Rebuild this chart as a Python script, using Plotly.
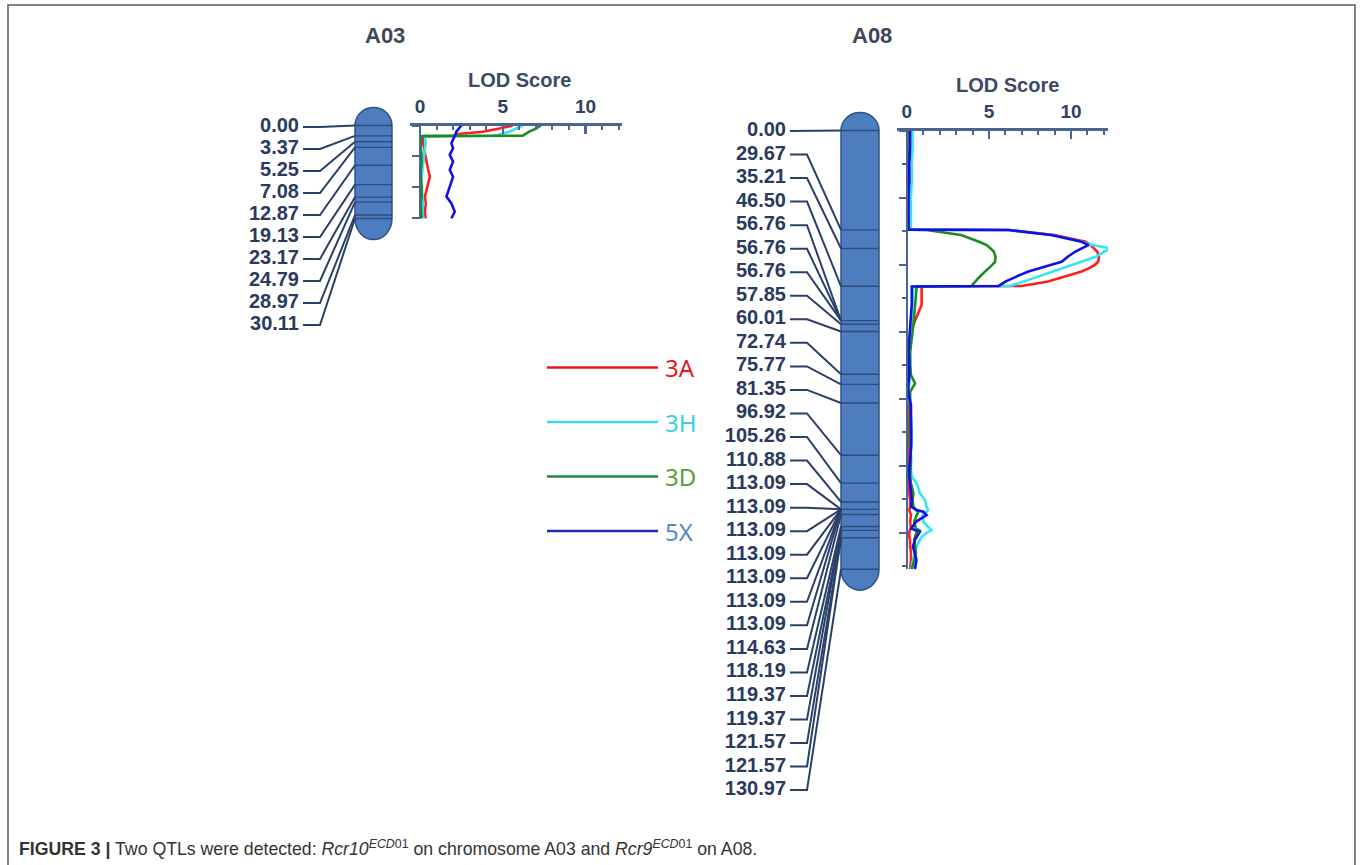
import plotly.graph_objects as go

W, H = 1360, 865

# ---------------- data ----------------
traits = ["3A", "3H", "3D", "5X"]
curve_colors = {"3A": "#ff1f1f", "3H": "#35e6f2", "3D": "#1c8c1c", "5X": "#1010e6"}
legend_line_colors = ["#e8141c", "#40d8ea", "#1f8a40", "#2828a8"]
legend_text_colors = ["#e8141c", "#35cfe6", "#5a9e34", "#5a88c2"]

a03_labels = ["0.00", "3.37", "5.25", "7.08", "12.87", "19.13", "23.17", "24.79", "28.97", "30.11"]
a08_labels = ["0.00", "29.67", "35.21", "46.50", "56.76", "56.76", "56.76", "57.85", "60.01",
              "72.74", "75.77", "81.35", "96.92", "105.26", "110.88", "113.09", "113.09",
              "113.09", "113.09", "113.09", "113.09", "113.09", "114.63", "118.19", "119.37",
              "119.37", "121.57", "121.57", "130.97"]
a03_pos = [float(v) for v in a03_labels]
a08_pos = [float(v) for v in a08_labels]

# LOD profiles, A03
lod03_cm = [0, 1, 2, 2.75, 3.3, 3.45, 5.8, 7.4, 9.5, 11.7, 14.4, 16.6, 19.8, 23, 25.2, 27.9, 30.11]
lod03_3A = [5.6, 4.8, 3.8, 2.3, 2.0, 0.15, 0.2, 0.25, 0.3, 0.4, 0.5, 0.6, 0.45, 0.3, 0.35, 0.3, 0.35]
lod03_3H = [6.2, 5.8, 5.4, 4.9, 4.5, 0.3, 0.35, 0.3, 0.25, 0.2, 0.15, 0.1, 0.1, 0.15, 0.2, 0.15, 0.2]
lod03_3D = [7.3, 7.0, 6.6, 6.4, 6.2, 0.1, 0.05, 0.05, 0.1, 0.1, 0.05, 0.05, 0.1, 0.1, 0.05, 0.1, 0.1]
lod03_5X = [2.5, 2.35, 2.2, 2.15, 2.1, 2.1, 1.9, 2.0, 1.8, 2.0, 1.8, 2.0, 1.8, 1.6, 1.9, 2.1, 1.9]

# LOD profiles, A08
lod08_cm = [0, 5, 10, 15, 20, 25, 29.6,
            29.7, 31.2, 33.2, 34.2, 35.2, 36.2, 37.7, 39.2, 40.1, 41.1, 42.1, 43.1, 44.1, 45.1, 46.4,
            46.55, 50, 52, 55, 58, 62, 66, 70, 73, 75.5, 78, 82, 86, 90, 94, 98, 101, 103.4, 105.3,
            108.3, 110.3, 112.3, 113.3, 113.8, 114.8, 116.8, 118.8, 119.3, 119.8, 121.3, 122.2,
            124.2, 126, 128.2, 130.97]
lod08_3A = [0.15, 0.1, 0.1, 0.15, 0.1, 0.1, 0.15,
            6.2, 9.0, 10.9, 11.2, 11.4, 11.6, 11.7, 11.65, 11.45, 11.1, 10.65, 10.0, 9.4, 8.6, 7.0,
            0.9, 0.9, 0.9, 0.65, 0.4, 0.2, 0.15, 0.1, 0.1, 0.1, 0.05, 0.05, 0.1, 0.1, 0.05, 0.1,
            0.1, 0.1, 0.15, 0.15, 0.2, 0.2, 0.15, 0.2, 0.25, 0.2, 0.25, 0.2, 0.15, 0.15, 0.2, 0.2,
            0.25, 0.25, 0.2]
lod08_3H = [0.35, 0.35, 0.3, 0.3, 0.25, 0.25, 0.25,
            6.2, 8.8, 10.65, 11.3, 12.45, 12.0, 11.5, 10.65, 10.1, 9.5, 8.9, 8.3, 7.7, 7.1, 6.3,
            0.4, 0.35, 0.35, 0.3, 0.3, 0.25, 0.2, 0.2, 0.2, 0.15, 0.1, 0.2, 0.25, 0.3, 0.25, 0.25,
            0.25, 0.3, 0.6, 0.8, 1.1, 1.2, 1.3, 1.2, 0.95, 1.0, 1.4, 1.5, 1.3, 0.9, 0.8, 0.6, 0.5,
            0.37, 0.27]
lod08_3D = [0.05, 0.05, 0.05, 0.1, 0.05, 0.05, 0.05,
            1.2, 3.3, 4.4, 4.86, 5.1, 5.3, 5.4, 5.37, 5.2, 4.96, 4.75, 4.55, 4.35, 4.15, 3.94,
            0.6, 0.55, 0.5, 0.45, 0.4, 0.3, 0.2, 0.2, 0.25, 0.5, 0.2, 0.2, 0.2, 0.2, 0.2, 0.25,
            0.2, 0.2, 0.25, 0.4, 0.35, 0.4, 0.55, 0.7, 0.6, 0.45, 0.55, 0.75, 0.6, 0.5, 0.45, 0.5,
            0.55, 0.45, 0.3]
lod08_5X = [0.2, 0.2, 0.15, 0.15, 0.1, 0.1, 0.1,
            6.2, 8.8, 10.65, 11.06, 10.65, 10.24, 9.8, 9.43, 8.8, 8.1, 7.4, 6.9, 6.45, 6.0, 5.6,
            0.3, 0.3, 0.3, 0.25, 0.2, 0.15, 0.1, 0.15, 0.15, 0.1, 0.08, 0.25, 0.27, 0.27, 0.27,
            0.2, 0.15, 0.16, 0.2, 0.27, 0.3, 0.27, 0.6, 1.0, 1.2, 0.55, 0.27, 0.5, 0.79, 0.6, 0.49,
            0.37, 0.45, 0.59, 0.49]

lod03 = {"3A": lod03_3A, "3H": lod03_3H, "3D": lod03_3D, "5X": lod03_5X}
lod08 = {"3A": lod08_3A, "3H": lod08_3H, "3D": lod08_3D, "5X": lod08_5X}

caption = ("<b>FIGURE 3 |</b> Two QTLs were detected: <i>Rcr10</i><sup><i>ECD</i>01</sup> "
           "on chromosome A03 and <i>Rcr9</i><sup><i>ECD</i>01</sup> on A08.")

# ---------------- layout constants (pixels) ----------------
def py(y):
    return 1 - y / H

LABEL_FONT = dict(family="Liberation Sans, Arial, sans-serif", size=20, color="#2a3a5e", weight="bold")
AXIS_COLOR = "#4a6690"
CONN_COLOR = "#2b4068"
CHROM_FILL = "#4d7cbf"
CHROM_LINE = "#2f5287"
BAND_COLOR = "#2b4373"

maps = {
    "A03": dict(cm0=125.5, scale=3.09, cx0=355, cx1=392, lab_x=299, t0=303, t1=320,
                lab_y0=127, lab_dy=22, labels=a03_labels, pos=a03_pos,
                yax="y", ydom=(90, 345), cap_t=18, cap_b=21,
                lod_x=(410, 622), lod_rng=(-0.6, 12.2), lod_xax="x2", lod_yax="y2",
                title_xy=(385, 35), lod_title_xy=(519, 80), ydt=10, yminor=None),
    "A08": dict(cm0=130.5, scale=3.35, cx0=841, cx1=879, lab_x=786, t0=790, t1=807,
                lab_y0=131, lab_dy=23.54, labels=a08_labels, pos=a08_pos,
                yax="y3", ydom=(95, 805), cap_t=18, cap_b=21,
                lod_x=(897, 1108), lod_rng=(-0.6, 12.25), lod_xax="x4", lod_yax="y4",
                title_xy=(872, 35), lod_title_xy=(1007, 85), ydt=20, yminor=10),
}
lods = {"A03": (lod03_cm, lod03), "A08": (lod08_cm, lod08)}

fig = go.Figure()
shapes = []
annotations = []
layout_axes = {}

def chrom_path(x0, x1, c0, c1, rt, rb):
    k = 0.5523
    xm = (x0 + x1) / 2
    rx = (x1 - x0) / 2
    return (f"M {x0},{c0} L {x0},{c1} "
            f"C {x0},{c1 + k * rb} {xm - k * rx},{c1 + rb} {xm},{c1 + rb} "
            f"C {xm + k * rx},{c1 + rb} {x1},{c1 + k * rb} {x1},{c1} "
            f"L {x1},{c0} "
            f"C {x1},{c0 - k * rt} {xm + k * rx},{c0 - rt} {xm},{c0 - rt} "
            f"C {xm - k * rx},{c0 - rt} {x0},{c0 - k * rt} {x0},{c0} Z")

for name, m in maps.items():
    s = m["scale"]
    cm_min, cm_max = min(m["pos"]), max(m["pos"])
    yname = "yaxis" if m["yax"] == "y" else "yaxis" + m["yax"][1:]
    top_px, bot_px = m["ydom"]
    layout_axes[yname] = dict(domain=[py(bot_px), py(top_px)],
                              range=[(bot_px - m["cm0"]) / s, (top_px - m["cm0"]) / s],
                              visible=False, anchor="x", fixedrange=True)

    # chromosome body
    shapes.append(dict(type="path", xref="x", yref=m["yax"], layer="below",
                       path=chrom_path(m["cx0"], m["cx1"], cm_min, cm_max,
                                       m["cap_t"] / s, m["cap_b"] / s),
                       fillcolor=CHROM_FILL, line=dict(color=CHROM_LINE, width=1.5)))

    # marker bands
    bx, by = [], []
    for p in sorted(set(m["pos"])):
        bx += [m["cx0"], m["cx1"], None]
        by += [p, p, None]
    fig.add_trace(go.Scatter(x=bx, y=by, xaxis="x", yaxis=m["yax"], mode="lines",
                             line=dict(color=BAND_COLOR, width=1.4), opacity=0.85,
                             hoverinfo="skip"))

    # label positions (evenly spaced), converted to cM on the map axis
    lab_cm = [(m["lab_y0"] + i * m["lab_dy"] - m["cm0"]) / s for i in range(len(m["labels"]))]
    cx, cy = [], []
    for lc, p in zip(lab_cm, m["pos"]):
        cx += [m["t0"], m["t1"], m["cx0"], None]
        cy += [lc, lc, p, None]
    fig.add_trace(go.Scatter(x=cx, y=cy, xaxis="x", yaxis=m["yax"], mode="lines",
                             line=dict(color=CONN_COLOR, width=2), hoverinfo="skip"))
    fig.add_trace(go.Scatter(x=[m["lab_x"]] * len(lab_cm), y=lab_cm, xaxis="x", yaxis=m["yax"],
                             mode="text", text=m["labels"], textposition="middle left",
                             textfont=LABEL_FONT, cliponaxis=False, hoverinfo="skip"))

    # LOD panel axes
    lx0, lx1 = m["lod_x"]
    xname = "xaxis" + m["lod_xax"][1:]
    ynm = "yaxis" + m["lod_yax"][1:]
    layout_axes[xname] = dict(domain=[lx0 / W, lx1 / W], range=list(m["lod_rng"]), side="top",
                              anchor=m["lod_yax"], showline=True, linecolor=AXIS_COLOR, linewidth=3,
                              ticks="inside", ticklen=8, tickwidth=2.5, tickcolor=AXIS_COLOR,
                              tick0=0, dtick=5, showgrid=False, zeroline=False,
                              tickfont=dict(family="Liberation Sans, Arial, sans-serif", size=19,
                                            color="#2f3f63", weight="bold"),
                              ticklabelstandoff=2,
                              minor=dict(dtick=1, tick0=0, ticks="inside", ticklen=4, tickwidth=2,
                                         tickcolor=AXIS_COLOR, showgrid=False),
                              fixedrange=True)
    ycfg = dict(domain=[py(m["cm0"] + cm_max * s), py(m["cm0"])], range=[cm_max, 0],
                anchor="free", position=(lx0 - m["lod_rng"][0] * (lx1 - lx0) /
                                         (m["lod_rng"][1] - m["lod_rng"][0])) / W,
                showline=True, linecolor=AXIS_COLOR, linewidth=2, ticks="outside",
                ticklen=7, tickwidth=2, tickcolor=AXIS_COLOR, tick0=0, dtick=m["ydt"],
                showticklabels=False, showgrid=False, zeroline=False, fixedrange=True)
    if m["yminor"]:
        ycfg["minor"] = dict(dtick=m["yminor"], tick0=0, ticks="outside", ticklen=4,
                             tickwidth=2, tickcolor=AXIS_COLOR, showgrid=False)
    layout_axes[ynm] = ycfg

    cms, prof = lods[name]
    for t in traits:
        fig.add_trace(go.Scatter(x=prof[t], y=cms, xaxis=m["lod_xax"], yaxis=m["lod_yax"],
                                 mode="lines", line=dict(color=curve_colors[t], width=2.6),
                                 hoverinfo="skip", name=t))

    # titles
    tx, ty = m["title_xy"]
    annotations.append(dict(text=f"<b>{name}</b>", x=tx / W, y=py(ty), xref="paper", yref="paper",
                            showarrow=False, xanchor="center", yanchor="middle",
                            font=dict(family="Liberation Sans, Arial, sans-serif", size=22,
                                      color="#3d4757")))
    lx, ly = m["lod_title_xy"]
    annotations.append(dict(text="<b>LOD Score</b>", x=lx / W, y=py(ly), xref="paper", yref="paper",
                            showarrow=False, xanchor="center", yanchor="middle",
                            font=dict(family="Liberation Sans, Arial, sans-serif", size=20,
                                      color="#3b4a66")))

# legend (custom, line then label)
for i, t in enumerate(traits):
    yy = 367.5 + 54.5 * i
    shapes.append(dict(type="line", xref="paper", yref="paper", x0=547 / W, x1=658 / W,
                       y0=py(yy), y1=py(yy), line=dict(color=legend_line_colors[i], width=2.6)))
    annotations.append(dict(text=t, x=663 / W, y=py(yy), xref="paper", yref="paper",
                            showarrow=False, xanchor="left", yanchor="middle",
                            font=dict(family="Noto Sans, Open Sans, sans-serif", size=24,
                                      color=legend_text_colors[i])))

# frame and caption
shapes.append(dict(type="rect", xref="paper", yref="paper", x0=8 / W, x1=1355 / W,
                   y0=-0.02, y1=py(5), line=dict(color="#5a5a5a", width=1.5),
                   fillcolor="rgba(0,0,0,0)", layer="below"))
annotations.append(dict(text=caption, x=17 / W, y=py(848), xref="paper", yref="paper",
                        showarrow=False, xanchor="left", yanchor="middle",
                        font=dict(family="Liberation Sans Narrow, Arial Narrow, Liberation Sans, sans-serif",
                                  size=17.7, color="#333333")))

fig.update_layout(
    width=W, height=H, margin=dict(l=0, r=0, t=0, b=0),
    paper_bgcolor="white", plot_bgcolor="rgba(0,0,0,0)", showlegend=False,
    hovermode=False, shapes=shapes, annotations=annotations,
    xaxis=dict(domain=[0, 1], range=[0, W], visible=False, anchor="y", fixedrange=True),
    **layout_axes,
)

fig.write_html("out.html", config={"displayModeBar": False, "staticPlot": True},
               post_script="document.body.style.margin='0';document.body.style.overflow='hidden';")
